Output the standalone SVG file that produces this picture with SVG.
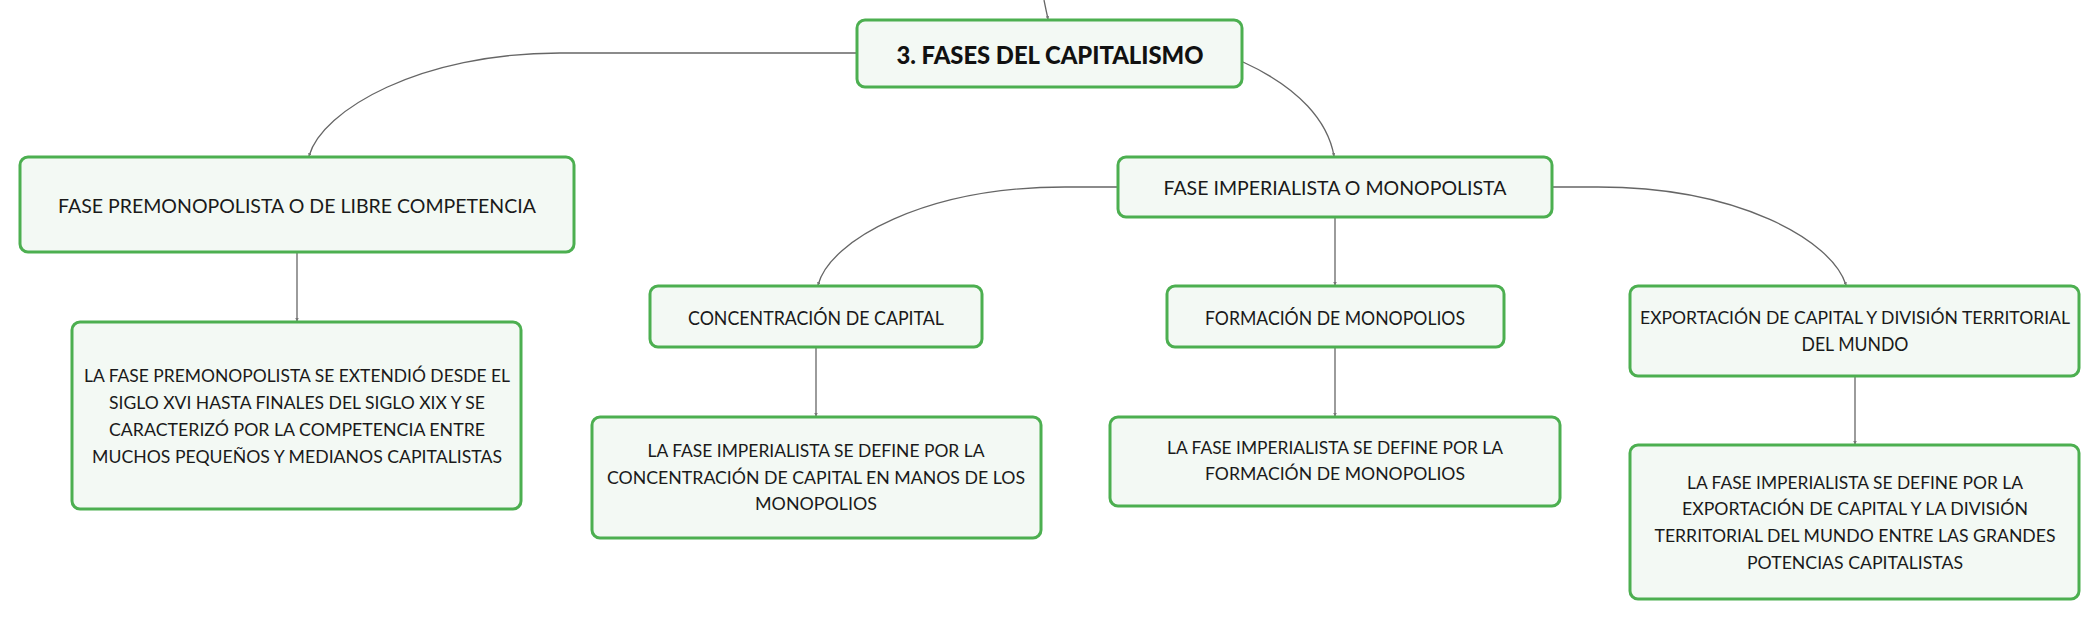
<svg xmlns="http://www.w3.org/2000/svg" width="2098" height="620" viewBox="0 0 2098 620">
<defs>
<marker id="arr" viewBox="0 0 6 6" refX="5" refY="3" markerWidth="3.5" markerHeight="3.5" orient="auto" markerUnits="userSpaceOnUse">
<path d="M0,0 L6,3 L0,6 z" fill="#777"/>
</marker>
<style>
.box{fill:#f3f9f4;stroke:#4caf50;stroke-width:3}
.t{font-family:Lato,"Liberation Sans",sans-serif;font-size:19px;fill:#1a1a1a;text-anchor:middle;dominant-baseline:central}
.d{font-family:Lato,"Liberation Sans",sans-serif;font-size:17.5px;fill:#1a1a1a;text-anchor:middle;dominant-baseline:central}
.r{font-family:Lato,"Liberation Sans",sans-serif;font-size:24px;font-weight:900;fill:#111;text-anchor:middle;dominant-baseline:central}
.c{fill:none;stroke:#666;stroke-width:1.3;marker-end:url(#arr)}
</style>
</defs>
<rect width="2098" height="620" fill="#ffffff"/>
<g id="connectors">
<path class="c" d="M1044,0 Q1046,10 1048,19"/>
<path class="c" d="M857,53 L560,53 C420,53 322,110 309,156"/>
<path class="c" d="M1243,62 C1300,88 1328,122 1334,156"/>
<path class="c" d="M297,253 L297,321"/>
<path class="c" d="M1118,187 L1065,187 C925,187 830,240 818,285"/>
<path class="c" d="M1335,217 L1335,285"/>
<path class="c" d="M1552,187 L1598,187 C1738,187 1832,240 1846,285"/>
<path class="c" d="M816,347 L816,416"/>
<path class="c" d="M1335,347 L1335,416"/>
<path class="c" d="M1855,376 L1855,444"/>
</g>
<g id="root">
<rect class="box" x="857" y="20" width="385" height="67" rx="8"/>
<text class="r" x="1050" y="54" textLength="307" lengthAdjust="spacingAndGlyphs">3. FASES DEL CAPITALISMO</text>
</g>
<g id="premonopolista">
<rect class="box" x="20" y="157" width="554" height="95" rx="8"/>
<text class="t" x="297" y="205" textLength="478" lengthAdjust="spacingAndGlyphs">FASE PREMONOPOLISTA O DE LIBRE COMPETENCIA</text>
</g>
<g id="premonopolista-desc">
<rect class="box" x="72" y="322" width="449" height="187" rx="8"/>
<text class="d" x="297" y="375" textLength="426" lengthAdjust="spacingAndGlyphs">LA FASE PREMONOPOLISTA SE EXTENDIÓ DESDE EL</text>
<text class="d" x="297" y="402" textLength="376" lengthAdjust="spacingAndGlyphs">SIGLO XVI HASTA FINALES DEL SIGLO XIX Y SE</text>
<text class="d" x="297" y="429" textLength="376" lengthAdjust="spacingAndGlyphs">CARACTERIZÓ POR LA COMPETENCIA ENTRE</text>
<text class="d" x="297" y="456" textLength="410" lengthAdjust="spacingAndGlyphs">MUCHOS PEQUEÑOS Y MEDIANOS CAPITALISTAS</text>
</g>
<g id="imperialista">
<rect class="box" x="1118" y="157" width="434" height="60" rx="8"/>
<text class="t" x="1335" y="187" textLength="343" lengthAdjust="spacingAndGlyphs">FASE IMPERIALISTA O MONOPOLISTA</text>
</g>
<g id="concentracion">
<rect class="box" x="650" y="286" width="332" height="61" rx="8"/>
<text class="t" x="816" y="317" textLength="256" lengthAdjust="spacingAndGlyphs">CONCENTRACIÓN DE CAPITAL</text>
</g>
<g id="concentracion-desc">
<rect class="box" x="592" y="417" width="449" height="121" rx="8"/>
<text class="d" x="816" y="450" textLength="337" lengthAdjust="spacingAndGlyphs">LA FASE IMPERIALISTA SE DEFINE POR LA</text>
<text class="d" x="816" y="477" textLength="418" lengthAdjust="spacingAndGlyphs">CONCENTRACIÓN DE CAPITAL EN MANOS DE LOS</text>
<text class="d" x="816" y="503" textLength="122" lengthAdjust="spacingAndGlyphs">MONOPOLIOS</text>
</g>
<g id="formacion">
<rect class="box" x="1167" y="286" width="337" height="61" rx="8"/>
<text class="t" x="1335" y="317" textLength="260" lengthAdjust="spacingAndGlyphs">FORMACIÓN DE MONOPOLIOS</text>
</g>
<g id="formacion-desc">
<rect class="box" x="1110" y="417" width="450" height="89" rx="8"/>
<text class="d" x="1335" y="447" textLength="336" lengthAdjust="spacingAndGlyphs">LA FASE IMPERIALISTA SE DEFINE POR LA</text>
<text class="d" x="1335" y="473" textLength="260" lengthAdjust="spacingAndGlyphs">FORMACIÓN DE MONOPOLIOS</text>
</g>
<g id="exportacion">
<rect class="box" x="1630" y="286" width="449" height="90" rx="8"/>
<text class="t" x="1855" y="317" style="font-size:17.5px" textLength="430" lengthAdjust="spacingAndGlyphs">EXPORTACIÓN DE CAPITAL Y DIVISIÓN TERRITORIAL</text>
<text class="t" x="1855" y="343" textLength="107" lengthAdjust="spacingAndGlyphs">DEL MUNDO</text>
</g>
<g id="exportacion-desc">
<rect class="box" x="1630" y="445" width="449" height="154" rx="8"/>
<text class="d" x="1855" y="482" textLength="336" lengthAdjust="spacingAndGlyphs">LA FASE IMPERIALISTA SE DEFINE POR LA</text>
<text class="d" x="1855" y="508" textLength="346" lengthAdjust="spacingAndGlyphs">EXPORTACIÓN DE CAPITAL Y LA DIVISIÓN</text>
<text class="d" x="1855" y="535" textLength="401" lengthAdjust="spacingAndGlyphs">TERRITORIAL DEL MUNDO ENTRE LAS GRANDES</text>
<text class="d" x="1855" y="562" textLength="216" lengthAdjust="spacingAndGlyphs">POTENCIAS CAPITALISTAS</text>
</g>
</svg>
